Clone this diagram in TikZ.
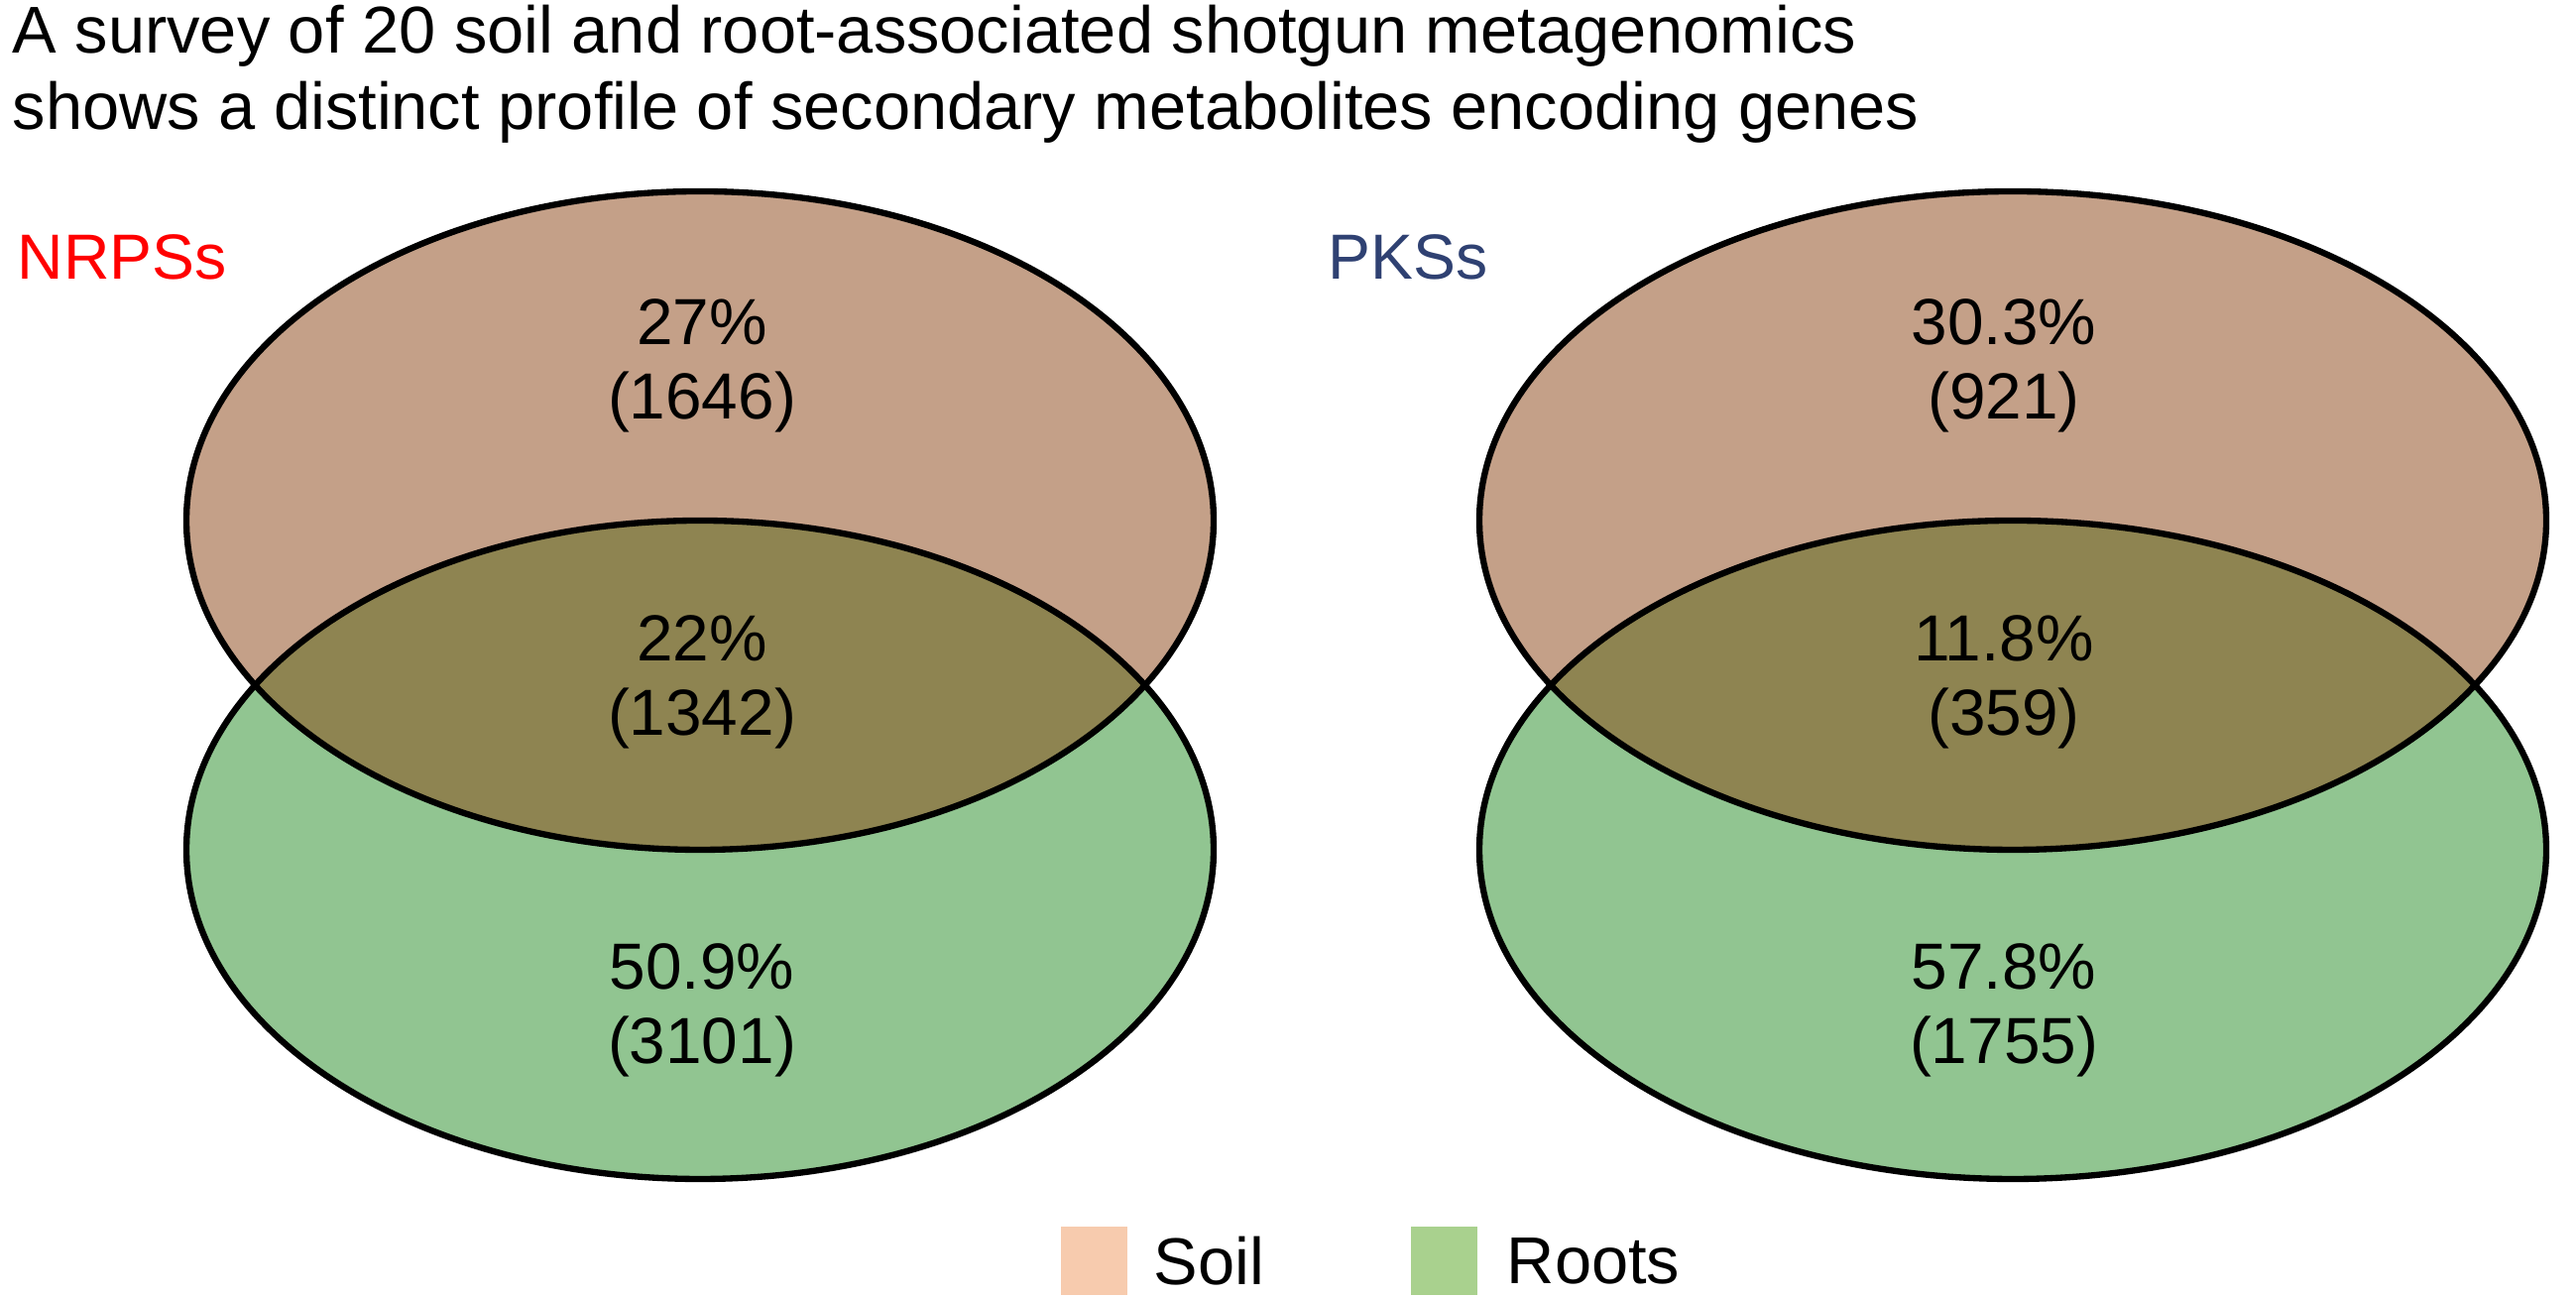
\documentclass[tikz,border=0pt]{standalone}
\usepackage{fontspec}
\setmainfont{Liberation Sans}
\usetikzlibrary{positioning}

\definecolor{soilfill}{HTML}{C4A088}
\definecolor{rootfill}{HTML}{91C591}
\definecolor{bothfill}{HTML}{8E8451}
\definecolor{soilkey}{HTML}{F7CBAE}
\definecolor{rootkey}{HTML}{A9D18E}
\definecolor{pksblue}{HTML}{2F4172}

\tikzset{
  titletext/.style={inner sep=0pt, anchor=base west, font=\fontsize{19}{22}\selectfont},
  setname/.style={inner sep=0pt, anchor=base west, font=\fontsize{18.3}{22}\selectfont},
  count/.style={align=center, inner sep=0pt, font=\fontsize{18.7}{21.3}\selectfont},
  vennline/.style={line width=1.8pt},
  keybox/.style={minimum width=0.67cm, minimum height=0.69cm, inner sep=0pt},
  keytext/.style={inner sep=0pt, font=\fontsize{19}{23}\selectfont}
}

\begin{document}
\begin{tikzpicture}
\useasboundingbox (0,0) rectangle (25.98,13.09);

% title
\node[titletext] (titleA) at (0.12,12.55) {A survey of 20 soil and root-associated shotgun metagenomics};
\node[titletext, below=0.77cm of titleA.base west, anchor=base west] (titleB) {shows a distinct profile of secondary metabolites encoding genes};

% NRPSs
\fill[soilfill] (7.06,7.84) ellipse (5.18 and 3.32);
\fill[rootfill] (7.06,4.52) ellipse (5.18 and 3.32);
\begin{scope}
  \clip (7.06,7.84) ellipse (5.18 and 3.32);
  \fill[bothfill] (7.06,4.52) ellipse (5.18 and 3.32);
\end{scope}
\draw[vennline] (7.06,7.84) ellipse (5.18 and 3.32);
\draw[vennline] (7.06,4.52) ellipse (5.18 and 3.32);

\node[setname, red] (nrps) at (0.17,10.27) {NRPSs};
\node[count] (nrpssoil) at (7.08,9.40) {27\%\\(1646)};
\node[count] (nrpsboth) at (7.08,6.21) {22\%\\(1342)};
\node[count] (nrpsroot) at (7.08,2.90) {50.9\%\\(3101)};

% PKSs
\fill[soilfill] (20.30,7.84) ellipse (5.38 and 3.32);
\fill[rootfill] (20.30,4.52) ellipse (5.38 and 3.32);
\begin{scope}
  \clip (20.30,7.84) ellipse (5.38 and 3.32);
  \fill[bothfill] (20.30,4.52) ellipse (5.38 and 3.32);
\end{scope}
\draw[vennline] (20.30,7.84) ellipse (5.38 and 3.32);
\draw[vennline] (20.30,4.52) ellipse (5.38 and 3.32);

\node[setname, pksblue] (pks) at (13.39,10.27) {PKSs};
\node[count] (pkssoil) at (20.21,9.40) {30.3\%\\(921)};
\node[count] (pksboth) at (20.21,6.21) {11.8\%\\(359)};
\node[count] (pksroot) at (20.21,2.90) {57.8\%\\(1755)};

% legend
\node[keybox, fill=soilkey] (soilbox) at (11.03,0.37) {};
\node[keytext, right=0.26cm of soilbox] (soillabel) {Soil};
\node[keybox, fill=rootkey] (rootbox) at (14.56,0.37) {};
\node[keytext, right=0.29cm of rootbox] (rootlabel) {Roots};
\end{tikzpicture}
\end{document}
